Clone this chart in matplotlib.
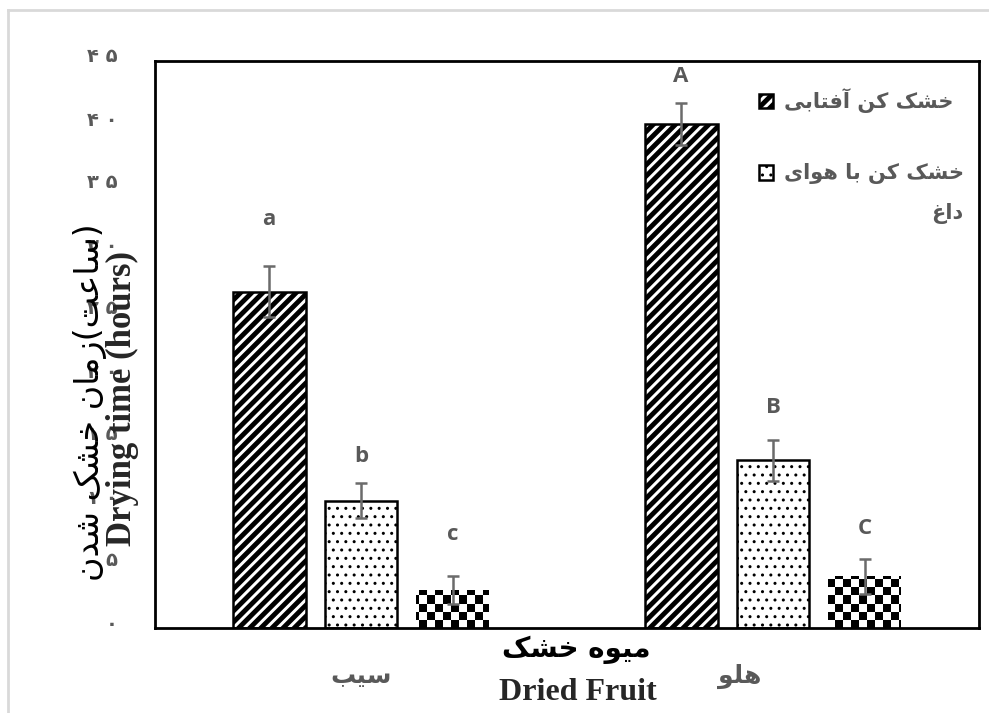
import numpy as np
import matplotlib.pyplot as plt
from matplotlib.transforms import ScaledTranslation
from matplotlib.lines import Line2D

# data
fruits = ['سیب', 'هلو']
series_names = ['خشک کن آفتابی', 'خشک کن با هوای\nداغ']
sun_dryer = [26.7, 40.0]
hot_air_dryer = [10.1, 13.3]
third_dryer = [3.0, 4.1]
sun_err = [2.0, 1.7]
hot_air_err = [1.4, 1.6]
third_err = [1.1, 1.4]
letters = [['a', 'A'], ['b', 'B'], ['c', 'C']]
letter_y = [[32.4, 43.8], [13.6, 17.5], [7.4, 7.9]]
yticks = [0, 5, 10, 15, 20, 25, 30, 35, 40, 45]

xlabel_fa = 'میوه خشک'
xlabel_en = 'Dried Fruit'
ylabel_fa = '(ساعت)زمان خشک شدن'
ylabel_en = 'Drying time (hours)'

# --- tiny persian shaper (matplotlib draws glyphs one by one, left to right)
FORMS = {
    'ا': ('\uFE8D', '\uFE8E', None, None),
    'آ': ('\uFE81', '\uFE82', None, None),
    'د': ('\uFEA9', '\uFEAA', None, None),
    'ز': ('\uFEAF', '\uFEB0', None, None),
    'و': ('\uFEED', '\uFEEE', None, None),
    'ب': ('\uFE8F', '\uFE90', '\uFE91', '\uFE92'),
    'ت': ('\uFE95', '\uFE96', '\uFE97', '\uFE98'),
    'خ': ('\uFEA5', '\uFEA6', '\uFEA7', '\uFEA8'),
    'س': ('\uFEB1', '\uFEB2', '\uFEB3', '\uFEB4'),
    'ش': ('\uFEB5', '\uFEB6', '\uFEB7', '\uFEB8'),
    'ع': ('\uFEC9', '\uFECA', '\uFECB', '\uFECC'),
    'غ': ('\uFECD', '\uFECE', '\uFECF', '\uFED0'),
    'ف': ('\uFED1', '\uFED2', '\uFED3', '\uFED4'),
    'ل': ('\uFEDD', '\uFEDE', '\uFEDF', '\uFEE0'),
    'م': ('\uFEE1', '\uFEE2', '\uFEE3', '\uFEE4'),
    'ن': ('\uFEE5', '\uFEE6', '\uFEE7', '\uFEE8'),
    'ه': ('\uFEE9', '\uFEEA', '\uFEEB', '\uFEEC'),
    'ک': ('\uFB8E', '\uFB8F', '\uFB90', '\uFB91'),
    'ی': ('\uFBFC', '\uFBFD', '\uFBFE', '\uFBFF'),
}
MIRROR = {'(': ')', ')': '('}


def fa(text):
    lines = []
    for line in text.split('\n'):
        res = []
        for i, c in enumerate(line):
            if c not in FORMS:
                res.append(MIRROR.get(c, c))
                continue
            prev = line[i-1] if i > 0 else None
            nxt = line[i+1] if i+1 < len(line) else None
            jp = prev in FORMS and FORMS[prev][2] is not None
            jn = FORMS[c][2] is not None and nxt in FORMS
            iso, fin, ini, med = FORMS[c]
            if jp and jn:
                res.append(med)
            elif jp:
                res.append(fin)
            elif jn:
                res.append(ini)
            else:
                res.append(iso)
        lines.append(''.join(reversed(res)))
    return '\n'.join(lines)


def fa_num(n):
    return ' '.join(str(n).translate(str.maketrans('0123456789', '۰۱۲۳۴۵۶۷۸۹')))


gray = '#595959'

fig = plt.figure(figsize=(9.89, 7.13), dpi=100)
ax = fig.add_axes([155/989, 1-628/713, (979-155)/989, (628-61)/713])

x = np.arange(len(fruits))
w = 0.177
off = 0.223
ekw = dict(ecolor='#6b6b6b', elinewidth=1.8, capsize=4.5, capthick=1.8, zorder=3)

# hatch linewidth is taken from rcParams when each bar is made
plt.rcParams['hatch.linewidth'] = 3.5
b1 = ax.bar(x - off, sun_dryer, w, color='white', edgecolor='black', hatch='///',
            linewidth=1.8, yerr=sun_err, error_kw=ekw, label=fa(series_names[0]))
plt.rcParams['hatch.linewidth'] = 1.0
b2 = ax.bar(x, hot_air_dryer, w, color='white', edgecolor='black', hatch='..',
            linewidth=1.8, yerr=hot_air_err, error_kw=ekw, label=fa(series_names[1]))
b3 = ax.bar(x + off, third_dryer, w, color='white', edgecolor='none',
            yerr=third_err, error_kw=ekw, label='_nolegend_')

ax.set_xlim(-0.5, 1.5)
ax.set_ylim(0, 45)

# checker texture for the third series, clipped to its bars
cell = 8
nx, ny = int(824 / cell), int(567 / cell)
checker = (np.add.outer(np.arange(ny), np.arange(nx)) % 2).astype(float)
for bar in b3:
    im = ax.imshow(checker, cmap='gray', extent=[0, 1, 0, 1], transform=ax.transAxes,
                   interpolation='nearest', aspect='auto', zorder=1.5)
    im.set_clip_path(bar)
ax.set_xlim(-0.5, 1.5)
ax.set_ylim(0, 45)

# significance letters
for k, pos in enumerate([x - off, x, x + off]):
    for j in range(len(fruits)):
        ax.text(pos[j], letter_y[k][j], letters[k][j], ha='center', va='center',
                fontsize=16, fontweight='bold', color=gray, family='Open Sans')

for s in ax.spines.values():
    s.set_linewidth(2)
ax.tick_params(axis='both', length=0)
ax.set_yticks(yticks)
ax.set_yticklabels([fa_num(t) for t in yticks], fontsize=14, fontweight='bold',
                   color=gray, family='DejaVu Sans')
ax.tick_params(axis='y', pad=27)
for lab in ax.get_yticklabels():
    lab.set_transform(lab.get_transform() + ScaledTranslation(0, 6/100, fig.dpi_scale_trans))

ax.set_xticks(x)
ax.set_xticklabels([fa(f) for f in fruits], fontsize=18, fontweight='bold',
                   color=gray, family='DejaVu Sans')
ax.tick_params(axis='x', pad=26)
xl = ax.get_xticklabels()
xl[1].set_transform(xl[1].get_transform() + ScaledTranslation(-33/100, 0, fig.dpi_scale_trans))

fig.text(576/989, 1-650/713, fa(xlabel_fa), ha='center', va='center', fontsize=20,
         fontweight='bold', family='DejaVu Sans')
fig.text(578/989, 1-693/713, xlabel_en, ha='center', va='center', fontsize=23,
         fontweight='bold', family='Liberation Serif', color='#262626')
fig.text(90/989, 1-402/713, fa(ylabel_fa), ha='center', va='center', fontsize=24,
         rotation=90, family='DejaVu Sans')
fig.text(122/989, 1-399/713, ylabel_en, ha='center', va='center', fontsize=25,
         rotation=90, fontweight='bold', family='Liberation Serif', color='#262626')

leg = ax.legend(loc='upper left', bbox_to_anchor=(0.71, 0.985), frameon=False,
                prop={'family': 'DejaVu Sans', 'weight': 'bold', 'size': 15},
                handlelength=0.7, handleheight=0.7, handletextpad=0.5,
                labelspacing=2.4, labelcolor=gray)
for t in leg.get_texts():
    t.set_multialignment('right')
    t.set_linespacing(2.2)
h1 = leg.legend_handles[0]
if hasattr(h1, '_hatch_linewidth'):
    h1._hatch_linewidth = 3.5
# the second handle sits beside the first line of its label, as in the picture
h2 = leg.legend_handles[1]
h2.set_y(h2.get_y() + 16)

# light frame round the picture
fig.add_artist(Line2D([8/989, 8/989], [0, 1-10/713], transform=fig.transFigure,
                      color='#d9d9d9', lw=2))
fig.add_artist(Line2D([8/989, 1], [1-10/713, 1-10/713], transform=fig.transFigure,
                      color='#d9d9d9', lw=2))

fig.savefig('out.png', dpi=100, facecolor='white')
